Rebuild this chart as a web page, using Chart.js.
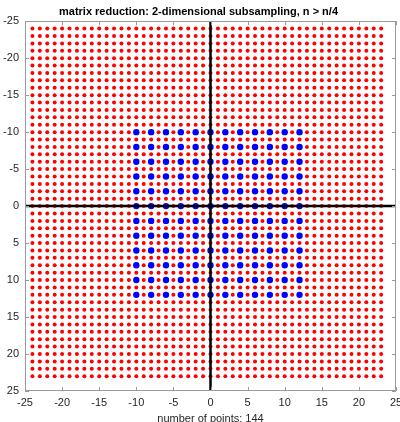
<!DOCTYPE html>
<html>
<head>
<meta charset="utf-8">
<script src="https://cdn.jsdelivr.net/npm/chart.js@4/dist/chart.umd.min.js"></script>
<style>
  html, body { margin: 0; padding: 0; background: #ffffff; }
  canvas { display: block; }
</style>
</head>
<body>
<canvas id="c" width="400" height="422"></canvas>
<script>
// Full grid coordinates (both directions)
const gridCoords = [-24, -23, -22, -21, -20, -19, -18, -17, -16, -15, -14, -13,
                    -12, -11, -10, -9, -8, -7, -6, -5, -4, -3, -2, -1,
                    0, 1, 2, 3, 4, 5, 6, 7, 8, 9, 10, 11, 12, 13, 14, 15,
                    16, 17, 18, 19, 20, 21, 22, 23];
// Subsampled coordinates kept after reduction (both directions)
const sampleCoords = [-10, -8, -6, -4, -2, 0, 2, 4, 6, 8, 10, 12];
// Axis tick values
const axisTicks = [-25, -20, -15, -10, -5, 0, 5, 10, 15, 20, 25];
const axisRange = [-25, 25];

const titleText = 'matrix reduction: 2-dimensional subsampling, n > n/4';
const xLabelText = 'number of points: ' + (sampleCoords.length * sampleCoords.length);

function gridPoints(xs, ys) {
  const pts = [];
  for (const y of ys) for (const x of xs) pts.push({ x, y });
  return pts;
}

const FONT = '"Liberation Sans", Arial, Helvetica, sans-serif';
const FRAME = '#9a9a9a';

// Box frame with inward ticks on all four sides
const framePlugin = {
  id: 'frameBox',
  afterDraw(chart) {
    const { ctx, chartArea: a, scales } = chart;
    const tl = 4;
    ctx.save();
    ctx.strokeStyle = FRAME;
    ctx.lineWidth = 1;
    ctx.beginPath();
    ctx.rect(Math.round(a.left) + 0.5, Math.round(a.top) + 0.5,
             Math.round(a.right - a.left) - 1, Math.round(a.bottom - a.top) - 1);
    for (const v of axisTicks) {
      const px = Math.round(scales.x.getPixelForValue(v)) + 0.5;
      ctx.moveTo(px, a.bottom); ctx.lineTo(px, a.bottom - tl);
      ctx.moveTo(px, a.top); ctx.lineTo(px, a.top + tl);
      const py = Math.round(scales.y.getPixelForValue(v)) + 0.5;
      ctx.moveTo(a.left, py); ctx.lineTo(a.left + tl, py);
      ctx.moveTo(a.right, py); ctx.lineTo(a.right - tl, py);
    }
    ctx.stroke();
    ctx.restore();
  }
};

const fixedTicks = (scale) => { scale.ticks = axisTicks.map(v => ({ value: v })); };

new Chart(document.getElementById('c'), {
  type: 'scatter',
  data: {
    datasets: [
      {
        type: 'line',
        label: 'x axis',
        data: [{ x: axisRange[0], y: 0 }, { x: axisRange[1], y: 0 }],
        borderColor: '#000000',
        borderWidth: 2.5,
        pointRadius: 0,
        order: 0
      },
      {
        type: 'line',
        label: 'y axis',
        data: [{ x: 0, y: axisRange[0] }, { x: 0, y: axisRange[1] }],
        borderColor: '#000000',
        borderWidth: 2.5,
        pointRadius: 0,
        order: 0
      },
      {
        label: 'kept',
        data: gridPoints(sampleCoords, sampleCoords),
        backgroundColor: '#0000ff',
        borderColor: '#0000ff',
        borderWidth: 0,
        pointRadius: 3.2,
        order: 1
      },
      {
        label: 'grid',
        data: gridPoints(gridCoords, gridCoords),
        backgroundColor: '#ff0000',
        borderColor: '#ff0000',
        borderWidth: 0,
        pointRadius: 2.0,
        order: 2
      }
    ]
  },
  options: {
    responsive: false,
    animation: false,
    devicePixelRatio: 1,
    layout: { padding: { left: 0, right: 3, top: 0, bottom: 0 } },
    plugins: {
      legend: { display: false },
      tooltip: { enabled: false },
      title: {
        display: true,
        text: titleText,
        color: '#000000',
        font: { family: FONT, size: 11, weight: 'bold', lineHeight: 1.2 },
        padding: { top: 5, bottom: 3 }
      }
    },
    scales: {
      x: {
        type: 'linear',
        position: 'bottom',
        min: axisRange[0],
        max: axisRange[1],
        afterBuildTicks: fixedTicks,
        afterFit: (s) => { s.height = 31; s.paddingLeft = 0; s.paddingRight = 0; },
        grid: { display: false, drawTicks: false },
        border: { display: false },
        ticks: {
          color: '#262626',
          font: { family: FONT, size: 11 },
          padding: 5,
          maxRotation: 0,
          autoSkip: false
        },
        title: {
          display: true,
          text: xLabelText,
          color: '#262626',
          font: { family: FONT, size: 11, lineHeight: 0.5 },
          padding: { top: 0, bottom: 0 }
        }
      },
      y: {
        type: 'linear',
        reverse: true,
        min: axisRange[0],
        max: axisRange[1],
        afterBuildTicks: fixedTicks,
        afterFit: (s) => { s.width = 25; s.paddingTop = 0; s.paddingBottom = 0; },
        grid: { display: false, drawTicks: false },
        border: { display: false },
        ticks: {
          color: '#262626',
          font: { family: FONT, size: 11 },
          padding: 6,
          autoSkip: false
        }
      }
    }
  },
  plugins: [framePlugin]
});
</script>
</body>
</html>
